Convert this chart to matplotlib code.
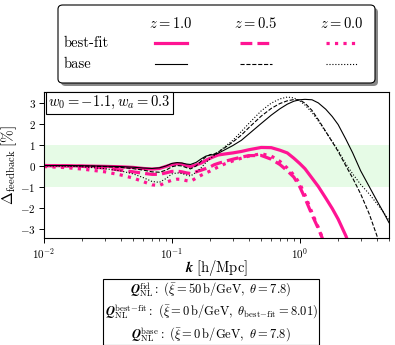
"""Feedback residual vs k for best-fit and base Q_NL models."""
import matplotlib
matplotlib.use("Agg")
import matplotlib.pyplot as plt
from matplotlib.lines import Line2D
from matplotlib.patches import FancyBboxPatch

plt.rcParams["mathtext.fontset"] = "cm"
plt.rcParams["font.family"] = "serif"
plt.rcParams["font.serif"] = ["cmr10", "DejaVu Serif"]
plt.rcParams["axes.unicode_minus"] = False
plt.rcParams["axes.formatter.use_mathtext"] = True

# wavenumbers [h/Mpc]
k = [0.01, 0.015, 0.02, 0.03, 0.04, 0.05, 0.06, 0.07, 0.08, 0.09,
     0.1, 0.11, 0.12, 0.13, 0.14, 0.155, 0.17, 0.185, 0.2, 0.215,
     0.23, 0.26, 0.3, 0.35, 0.4, 0.5, 0.6, 0.7, 0.8, 0.9,
     1.0, 1.1, 1.25, 1.4, 1.6, 1.8, 2.0, 2.3, 2.6, 3.0,
     3.5, 4.0, 4.5, 5.0]

# Delta_feedback [%], base model
base_z10 = [0.0, 0.0, -0.01, -0.03, -0.05, -0.08, -0.12, -0.14, -0.11, -0.02,
            0.1, 0.14, 0.12, 0.07, 0.05, 0.15, 0.32, 0.45, 0.5, 0.52,
            0.58, 0.75, 0.95, 1.2, 1.5, 2.0, 2.4, 2.7, 2.92, 3.06,
            3.13, 3.15, 3.13, 2.98, 2.68, 2.33, 1.95, 1.25, 0.6, -0.25,
            -1.0, -1.65, -2.2, -2.72]
base_z05 = [0.0, -0.01, -0.02, -0.05, -0.09, -0.15, -0.22, -0.3, -0.32, -0.22,
            -0.06, 0.0, -0.02, -0.1, -0.16, -0.02, 0.22, 0.42, 0.52, 0.55,
            0.64, 0.85, 1.12, 1.45, 1.8, 2.35, 2.72, 2.95, 3.08, 3.14,
            3.12, 2.97, 2.62, 2.18, 1.62, 1.12, 0.67, -0.02, -0.6, -1.35,
            -2.3, -3.3, -4.2, -5.0]
base_z00 = [-0.01, -0.03, -0.06, -0.15, -0.26, -0.4, -0.58, -0.76, -0.8, -0.62,
            -0.4, -0.35, -0.38, -0.45, -0.5, -0.32, -0.1, 0.15, 0.33, 0.48,
            0.62, 0.9, 1.2, 1.62, 2.0, 2.6, 2.97, 3.17, 3.26, 3.22,
            3.08, 2.88, 2.52, 2.12, 1.6, 1.15, 0.72, 0.08, -0.4, -0.9,
            -1.35, -1.8, -2.2, -2.6]

# Delta_feedback [%], best-fit model (curves leave the axes at high k)
fit_z10 = [0.0, -0.01, -0.02, -0.04, -0.06, -0.09, -0.14, -0.17, -0.14, -0.04,
           0.05, 0.08, 0.07, 0.0, -0.05, 0.03, 0.12, 0.25, 0.35, 0.43,
           0.5, 0.55, 0.6, 0.67, 0.75, 0.86, 0.85, 0.73, 0.6, 0.35,
           0.1, -0.15, -0.6, -1.0, -1.55, -2.05, -2.55, -3.35, -4.2]
fit_z05 = [0.0, -0.02, -0.04, -0.12, -0.22, -0.3, -0.37, -0.42, -0.42, -0.35,
           -0.28, -0.27, -0.3, -0.35, -0.38, -0.3, -0.22, -0.14, -0.06, 0.04,
           0.1, 0.2, 0.3, 0.4, 0.47, 0.48, 0.3, 0.05, -0.25, -0.55,
           -1.0, -1.55, -2.35, -3.0, -3.85]
fit_z00 = [-0.05, -0.1, -0.17, -0.3, -0.45, -0.6, -0.77, -0.92, -0.95, -0.8,
           -0.7, -0.65, -0.66, -0.72, -0.75, -0.6, -0.46, -0.35, -0.26, -0.16,
           -0.07, 0.08, 0.22, 0.35, 0.45, 0.56, 0.45, 0.2, -0.12, -0.45,
           -0.85, -1.4, -2.25, -2.95, -3.85]

redshift_labels = ["1.0", "0.5", "0.0"]
styles = ["-", "--", ":"]
PINK = "#ff1493"

W, H = 395, 345


def fx(px):
    return px / W


def fy(py):
    return 1 - py / H


fig = plt.figure(figsize=(W / 100, H / 100), dpi=100)
ax = fig.add_axes([fx(44), fy(238), fx(389) - fx(44), fy(92) - fy(238)])

ax.axhspan(-1, 1, color="lightgreen", alpha=0.22, lw=0, zorder=0)

for vals, ls in zip([fit_z10, fit_z05, fit_z00], styles):
    ax.plot(k[:len(vals)], vals, color=PINK, ls=ls, lw=2.3, zorder=2)
for vals, ls in zip([base_z10, base_z05, base_z00], styles):
    ax.plot(k[:len(vals)], vals, color="black", ls=ls, lw=0.8, zorder=3)

ax.set_xscale("log")
ax.set_xlim(0.01, 5.0)
ax.set_ylim(-3.45, 3.5)
ax.set_yticks([-3, -2, -1, 0, 1, 2, 3])
ax.tick_params(labelsize=8, pad=2.5, length=3.5, width=0.7)
ax.tick_params(which="minor", length=2, width=0.5)
for sp in ax.spines.values():
    sp.set_linewidth(0.8)
ax.set_xlabel(r"$\boldsymbol{k}\;[\mathrm{h/Mpc}]$", fontsize=10.5)
ax.xaxis.set_label_coords(0.5, -0.14)
ax.set_ylabel(r"$\Delta_{\rm feedback}\;[\%]$", fontsize=11)
ax.yaxis.set_label_coords(-0.072, 0.5)

ax.text(0.013, 0.985, r"$w_0=-1.1, w_a=0.3$", transform=ax.transAxes,
        ha="left", va="top", fontsize=10.5,
        bbox=dict(boxstyle="square,pad=0.15", fc="white", ec="black", lw=0.8))

# legend box with shadow
x0, y0, x1, y1 = 58, 5, 375, 83
shadow = FancyBboxPatch((fx(x0 + 3), fy(y1 + 3)), fx(x1) - fx(x0), fy(y0) - fy(y1),
                        boxstyle="round,pad=0,rounding_size=0.012",
                        transform=fig.transFigure, fc="#888888", ec="none")
box = FancyBboxPatch((fx(x0), fy(y1)), fx(x1) - fx(x0), fy(y0) - fy(y1),
                     boxstyle="round,pad=0,rounding_size=0.012",
                     transform=fig.transFigure, fc="white", ec="black", lw=0.8)
fig.add_artist(shadow)
fig.add_artist(box)

fig.text(fx(64), fy(43), "best-fit", fontsize=10.5, ha="left", va="center")
fig.text(fx(64), fy(64), "base", fontsize=10.5, ha="left", va="center")
for cx, zl, ls in zip([171, 256, 342], redshift_labels, styles):
    fig.text(fx(cx), fy(23), rf"$z={zl}$", fontsize=10.5, ha="center", va="center")
    fig.add_artist(Line2D([fx(cx - 16), fx(cx + 16)], [fy(43), fy(43)],
                          transform=fig.transFigure, color=PINK, ls=ls, lw=2.3))
    fig.add_artist(Line2D([fx(cx - 16), fx(cx + 16)], [fy(64), fy(64)],
                          transform=fig.transFigure, color="black", ls=ls, lw=0.8))

qnl_text = "\n".join([
    r"$\boldsymbol{Q}_{\rm NL}^{\rm fid}:\ (\bar{\xi}=50\,{\rm b/GeV},\ \theta=7.8)$",
    r"$\boldsymbol{Q}_{\rm NL}^{\rm best\!-\!fit}:\ (\bar{\xi}=0\,{\rm b/GeV},\ \theta_{\rm best\!-\!fit}=8.01)$",
    r"$\boldsymbol{Q}_{\rm NL}^{\rm base}:\ (\bar{\xi}=0\,{\rm b/GeV},\ \theta=7.8)$",
])
fig.text(fx(211), fy(312), qnl_text, fontsize=9, ha="center", va="center",
         multialignment="center", linespacing=1.3,
         bbox=dict(boxstyle="square,pad=0.12", fc="white", ec="black", lw=0.8))

fig.savefig("out.png", dpi=100)
